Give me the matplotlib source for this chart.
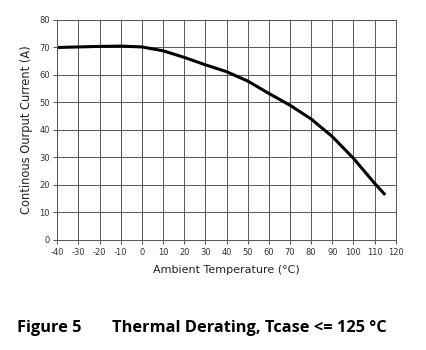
import numpy as np
import matplotlib
matplotlib.use("Agg")
from matplotlib import pyplot as plt

plt.rcParams["axes.unicode_minus"] = False

# Werte
temperatur = [-40, -30, -20, -10, 0, 10, 20, 30, 40, 50, 60, 70, 80, 90, 100, 110, 115]
strom = [70.0, 70.2, 70.4, 70.5, 70.2, 68.8, 66.4, 63.7, 61.2, 57.8, 53.3, 49.0, 44.0, 37.6, 29.7, 20.6, 16.4]
x_ticks = list(range(-40, 121, 10))
y_ticks = list(range(0, 81, 10))

fig = plt.figure(figsize=(4.26, 3.5), dpi=100)
ax = fig.add_axes([0.1345, 0.3143, 0.7945, 0.6286])

ax.plot(temperatur, strom, color="black", linewidth=2.2, solid_capstyle="butt")

ax.set_xlim(-40, 120)
ax.set_ylim(0, 80)
ax.set_xticks(x_ticks)
ax.set_yticks(y_ticks)
ax.grid(True, color="#555555", linewidth=0.7)
ax.set_axisbelow(True)
for s in ax.spines.values():
    s.set_color("#555555")
    s.set_linewidth(0.7)
ax.tick_params(axis="both", labelsize=6, colors="#555555", labelcolor="#333333",
               length=3, width=0.7, pad=2.5)

ax.set_xlabel("Ambient Temperature (°C)", fontsize=8, color="#222222", labelpad=6)
ax.set_ylabel("Continous Ourput Current (A)", fontsize=8.3, color="#222222", labelpad=4)

fig.text(0.04, 0.052, "Figure 5", fontsize=11.8, fontweight="bold", family="Open Sans",
         ha="left", va="baseline")
fig.text(0.263, 0.052, "Thermal Derating, Tcase <= 125 °C", fontsize=11.8, fontweight="bold",
         family="Open Sans", ha="left", va="baseline")

fig.savefig("out.png", dpi=100)
